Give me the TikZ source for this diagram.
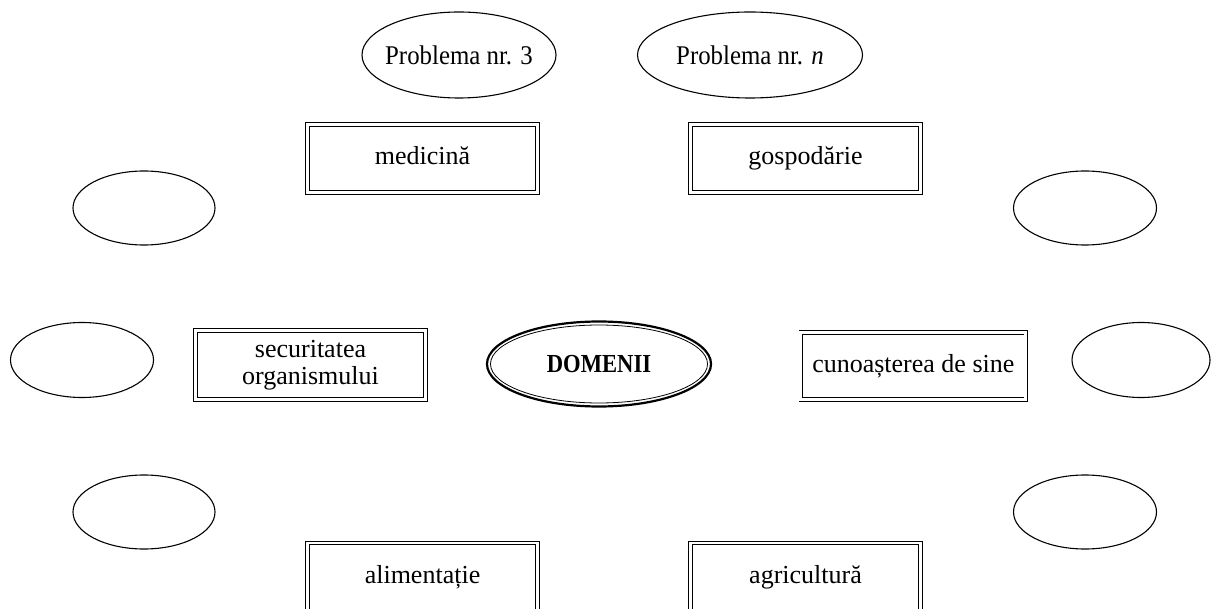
\documentclass[tikz,border=0pt]{standalone}
\usepackage{fontspec}
\setmainfont{Liberation Serif}
\usetikzlibrary{shapes.geometric}
\begin{document}
\begin{tikzpicture}[x=1pt,y=-1pt,
  txt/.style={font=\fontsize{26}{27}\selectfont},
  oval/.style={ellipse,draw=black,line width=1.1pt,inner sep=0pt},
  lbl/.style={inner sep=0pt,font=\fontsize{27}{29}\selectfont},
  dbox/.style={rectangle,draw=black,double=white,double distance=2.8pt,line width=0.85pt,inner sep=0pt,align=center,txt},
  one/.style={text height=18pt,text depth=6pt}]
\useasboundingbox (0,0) rectangle (1212,609);
\node[oval,minimum width=194pt,minimum height=86pt] (p3) at (459,55) {};
\node[lbl] (p3t) at (p3.center) {\scalebox{0.92}[1]{Problema nr. 3}};
\node[oval,minimum width=225pt,minimum height=86pt] (pn) at (750,55) {};
\node[lbl] (pnt) at (pn.center) {\scalebox{0.92}[1]{Problema nr. \textit{n}}};
\node[oval,minimum width=142pt,minimum height=74pt] (ul) at (144,208) {};
\node[oval,minimum width=143pt,minimum height=75pt] (ml) at (82,360) {};
\node[oval,minimum width=142pt,minimum height=74pt] (ll) at (144,512) {};
\node[oval,minimum width=143pt,minimum height=74pt] (ur) at (1085,208) {};
\node[oval,minimum width=138pt,minimum height=75pt] (mr) at (1141,360) {};
\node[oval,minimum width=143pt,minimum height=74pt] (lr) at (1085,512) {};
\node[dbox,one,minimum width=230pt,minimum height=68pt] (med) at (422.5,158.5) {medicină};
\node[dbox,one,minimum width=230pt,minimum height=68pt] (gos) at (805.5,158.5) {gospodărie};
\node[dbox,minimum width=230pt,minimum height=69pt] (sec) at (310.5,365) {securitatea\\organismului};
\node[dbox,one,minimum width=225pt,minimum height=67pt] (cun) at (913.3,366) {cunoașterea de sine};
\node[dbox,one,minimum width=230pt,minimum height=68pt] (ali) at (422.5,577) {alimentație};
\node[dbox,one,minimum width=230pt,minimum height=68pt] (agr) at (805.5,577) {agricultură};
\node[ellipse,draw=black,line width=2.2pt,inner sep=0pt,minimum width=224pt,minimum height=85pt] (dom) at (599,364) {};
\draw[line width=0.8pt] (dom.center) ellipse [x radius=108.5pt, y radius=39pt];
\node[font=\bfseries\fontsize{26}{28}\selectfont] (domt) at (dom.center) {\scalebox{0.87}[1]{DOMENII}};
\end{tikzpicture}
\end{document}
